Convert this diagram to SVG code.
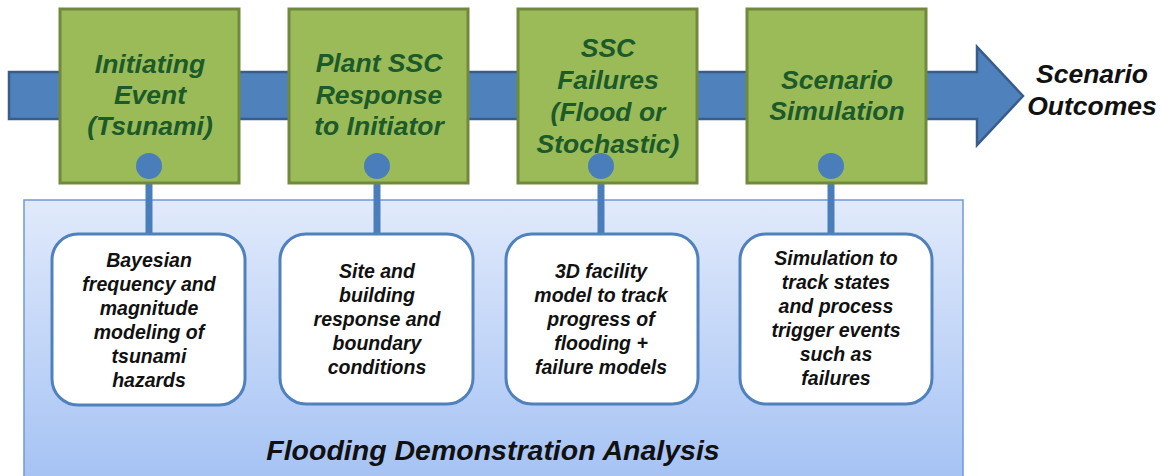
<svg xmlns="http://www.w3.org/2000/svg" width="1162" height="476" viewBox="0 0 1162 476">
  <defs>
    <linearGradient id="panelFill" x1="0" y1="0" x2="0" y2="1">
      <stop offset="0" stop-color="#e1eafb"/>
      <stop offset="1" stop-color="#a3c1f4"/>
    </linearGradient>
    <style>
      .stage { fill: #9bbb59; stroke: #71893f; stroke-width: 3; }
      .stage-text { font-family: "Liberation Sans", Arial, sans-serif; font-weight: bold; font-style: italic; font-size: 26.5px; fill: #1c5a2a; text-anchor: middle; }
      .detail { fill: #ffffff; stroke: #4f81bd; stroke-width: 3; }
      .detail-text { font-family: "Liberation Sans", Arial, sans-serif; font-weight: bold; font-style: italic; font-size: 19.5px; fill: #111111; text-anchor: middle; }
      .title-text { font-family: "Liberation Sans", Arial, sans-serif; font-weight: bold; font-style: italic; fill: #111111; text-anchor: middle; }
      .stem { stroke: #4a7ebb; stroke-width: 7; fill: none; }
      .knob { fill: #4a7ebb; }
    </style>
  </defs>

  <rect width="1162" height="476" fill="#ffffff"/>

  <!-- analysis panel -->
  <g id="analysis-panel">
    <rect x="24" y="200" width="939" height="290" fill="url(#panelFill)" stroke="#6f9ad8" stroke-width="1.5"/>
    <text class="title-text" x="493" y="460" font-size="28.5">Flooding Demonstration Analysis</text>
  </g>

  <!-- process arrow -->
  <g id="process-arrow">
    <path d="M9,72 H977 V47 L1023,96 L977,145 V119 H9 Z" fill="#4f81bd" stroke="#385d8a" stroke-width="2.5" stroke-linejoin="miter"/>
  </g>

  <!-- connectors: stage to detail -->
  <g id="connectors">
    <line class="stem" x1="149" y1="166" x2="149" y2="234"/>
    <line class="stem" x1="377" y1="166" x2="377" y2="234"/>
    <line class="stem" x1="601" y1="166" x2="601" y2="234"/>
    <line class="stem" x1="831" y1="166" x2="831" y2="234"/>
  </g>

  <!-- stages -->
  <g id="stage-initiating-event">
    <rect class="stage" x="60" y="9" width="179" height="174"/>
    <text class="stage-text" x="150" y="73">Initiating</text>
    <text class="stage-text" x="150" y="104">Event</text>
    <text class="stage-text" x="150" y="135">(Tsunami)</text>
    <circle class="knob" cx="149" cy="166" r="13"/>
  </g>
  <g id="stage-plant-response">
    <rect class="stage" x="289" y="9" width="179" height="174"/>
    <text class="stage-text" x="379" y="72">Plant SSC</text>
    <text class="stage-text" x="379" y="104">Response</text>
    <text class="stage-text" x="379" y="135">to Initiator</text>
    <circle class="knob" cx="377" cy="166" r="13"/>
  </g>
  <g id="stage-ssc-failures">
    <rect class="stage" x="518" y="9" width="179" height="174"/>
    <text class="stage-text" x="608" y="57">SSC</text>
    <text class="stage-text" x="608" y="89">Failures</text>
    <text class="stage-text" x="608" y="121">(Flood or</text>
    <text class="stage-text" x="608" y="153">Stochastic)</text>
    <circle class="knob" cx="601" cy="166" r="13"/>
  </g>
  <g id="stage-scenario-simulation">
    <rect class="stage" x="747" y="9" width="179" height="174"/>
    <text class="stage-text" x="837" y="89">Scenario</text>
    <text class="stage-text" x="837" y="120">Simulation</text>
    <circle class="knob" cx="831" cy="166" r="13"/>
  </g>

  <!-- outcome label -->
  <g id="scenario-outcomes">
    <text class="title-text" x="1092" y="83" font-size="26.5">Scenario</text>
    <text class="title-text" x="1092" y="115" font-size="26.5">Outcomes</text>
  </g>

  <!-- detail boxes -->
  <g id="detail-hazard">
    <rect class="detail" x="52" y="234" width="193" height="171" rx="26"/>
    <text class="detail-text" x="149" y="267">Bayesian</text>
    <text class="detail-text" x="149" y="291">frequency and</text>
    <text class="detail-text" x="149" y="315">magnitude</text>
    <text class="detail-text" x="149" y="339">modeling of</text>
    <text class="detail-text" x="149" y="363">tsunami</text>
    <text class="detail-text" x="149" y="387">hazards</text>
  </g>
  <g id="detail-site">
    <rect class="detail" x="280" y="234" width="193" height="170" rx="26"/>
    <text class="detail-text" x="377" y="278">Site and</text>
    <text class="detail-text" x="377" y="302">building</text>
    <text class="detail-text" x="377" y="326">response and</text>
    <text class="detail-text" x="377" y="350">boundary</text>
    <text class="detail-text" x="377" y="374">conditions</text>
  </g>
  <g id="detail-facility">
    <rect class="detail" x="506" y="234" width="192" height="170" rx="26"/>
    <text class="detail-text" x="601" y="278">3D facility</text>
    <text class="detail-text" x="601" y="302">model to track</text>
    <text class="detail-text" x="601" y="326">progress of</text>
    <text class="detail-text" x="601" y="350">flooding +</text>
    <text class="detail-text" x="601" y="374">failure models</text>
  </g>
  <g id="detail-simulation">
    <rect class="detail" x="740" y="234" width="192" height="170" rx="26"/>
    <text class="detail-text" x="836" y="265">Simulation to</text>
    <text class="detail-text" x="836" y="289">track states</text>
    <text class="detail-text" x="836" y="313">and process</text>
    <text class="detail-text" x="836" y="337">trigger events</text>
    <text class="detail-text" x="836" y="361">such as</text>
    <text class="detail-text" x="836" y="385">failures</text>
  </g>
</svg>
